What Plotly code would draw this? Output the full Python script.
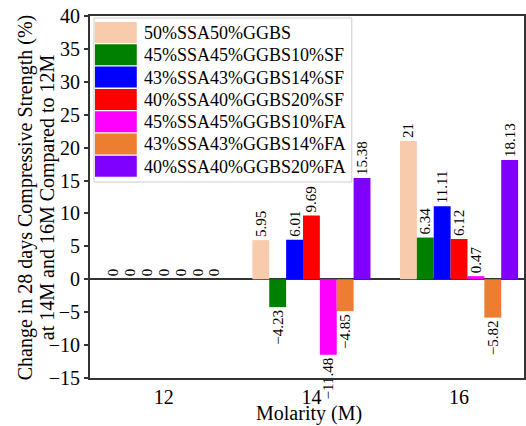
import plotly.graph_objects as go

categories = ["12", "14", "16"]
series_names = [
    "50%SSA50%GGBS",
    "45%SSA45%GGBS10%SF",
    "43%SSA43%GGBS14%SF",
    "40%SSA40%GGBS20%SF",
    "45%SSA45%GGBS10%FA",
    "43%SSA43%GGBS14%FA",
    "40%SSA40%GGBS20%FA",
]
colors = ["#F8CBAD", "#008000", "#0000FF", "#FF0000", "#FF00FF", "#ED7D31", "#7F00FF"]
values = [
    [0, 5.95, 21],
    [0, -4.23, 6.34],
    [0, 6.01, 11.11],
    [0, 9.69, 6.12],
    [0, -11.48, 0.47],
    [0, -4.85, -5.82],
    [0, 15.38, 18.13],
]

FONT = "Liberation Serif, Times New Roman, Tinos, DejaVu Serif, serif"
W, H = 526, 426
ML, MR, MT, MB = 90, 0, 16, 48
PW, PH = W - ML - MR, H - MT - MB


def fmt(v):
    s = ("%g" % v)
    return s.replace("-", "\u2212")


fig = go.Figure()
for name, col, vals in zip(series_names, colors, values):
    fig.add_trace(go.Bar(
        x=categories, y=vals, name=name,
        marker=dict(color=col, line=dict(width=0)),
        text=[fmt(v) for v in vals],
        textposition="outside", textangle=-90,
        textfont=dict(family=FONT, size=15, color="black"),
        constraintext="none", cliponaxis=False,
        showlegend=False,
    ))


def px_x(p):
    return (p - ML) / PW


def px_y(p):
    return (H - MB - p) / PH


shapes = []
annotations = []
# legend box
shapes.append(dict(type="rect", xref="paper", yref="paper",
                   x0=px_x(94), x1=px_x(353), y0=px_y(182), y1=px_y(18),
                   line=dict(color="#CCCCCC", width=1), fillcolor="white", layer="above"))
pitch = 22.3
for i, (name, col) in enumerate(zip(series_names, colors)):
    top = 22 + pitch * i
    shapes.append(dict(type="rect", xref="paper", yref="paper",
                       x0=px_x(95), x1=px_x(137), y0=px_y(top + 21), y1=px_y(top),
                       line=dict(width=0), fillcolor=col, layer="above"))
    annotations.append(dict(xref="paper", yref="paper", x=px_x(142), y=px_y(top + 11),
                            text=name, showarrow=False, xanchor="left", yanchor="middle",
                            font=dict(family=FONT, size=18, color="black")))

# y-axis title lines
annotations.append(dict(xref="paper", yref="paper", x=px_x(25), y=px_y(197),
                        text="Change in 28 days Compressive Strength (%)", textangle=-90,
                        showarrow=False, xanchor="center", yanchor="middle",
                        font=dict(family=FONT, size=20, color="black")))
annotations.append(dict(xref="paper", yref="paper", x=px_x(47), y=px_y(197),
                        text="at 14M and 16M Compared to 12M", textangle=-90,
                        showarrow=False, xanchor="center", yanchor="middle",
                        font=dict(family=FONT, size=20, color="black")))
# x-axis title
annotations.append(dict(xref="paper", yref="paper", x=px_x(310), y=px_y(413),
                        text="Molarity (M)", showarrow=False,
                        xanchor="center", yanchor="middle",
                        font=dict(family=FONT, size=20, color="black")))

fig.update_layout(
    width=W, height=H,
    margin=dict(l=ML, r=MR, t=MT, b=MB),
    paper_bgcolor="white", plot_bgcolor="white",
    barmode="group", bargap=0.2, bargroupgap=0,
    font=dict(family=FONT, size=20, color="black"),
    shapes=shapes, annotations=annotations,
    xaxis=dict(type="category", categoryorder="array", categoryarray=categories,
               range=[-0.5, 2.44], showline=True, linecolor="#333333", linewidth=2,
               mirror=True, ticks="", showgrid=False,
               tickfont=dict(family=FONT, size=20, color="black")),
    yaxis=dict(range=[-15, 40], dtick=5, tick0=0, showline=True, linecolor="#333333",
               linewidth=2, mirror=True, ticks="outside", ticklen=4, tickcolor="#333333",
               tickwidth=1.5, showgrid=False,
               zeroline=True, zerolinecolor="#333333", zerolinewidth=2,
               tickfont=dict(family=FONT, size=20, color="black")),
)

fig.write_html("out.html",
               config={"displayModeBar": False},
               post_script="document.body.style.margin='0';document.body.style.padding='0';")
